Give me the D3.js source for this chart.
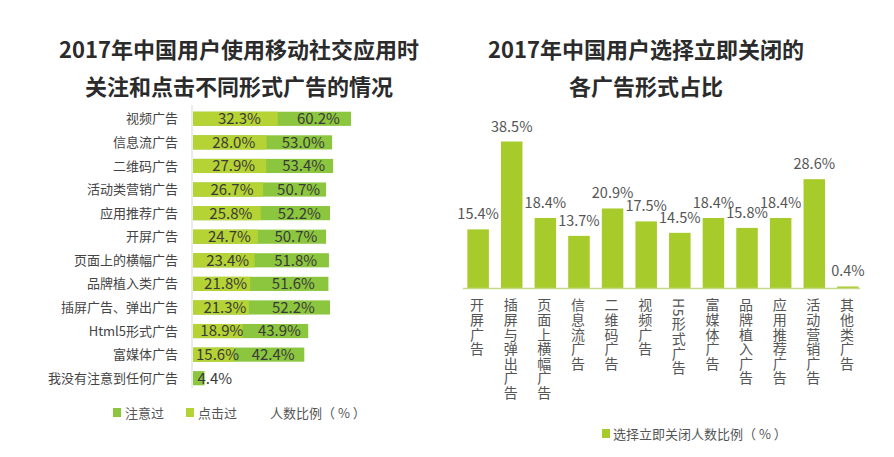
<!DOCTYPE html>
<html>
<head>
<meta charset="utf-8">
<script src="https://cdn.jsdelivr.net/npm/d3@7"></script>
<style>
  body { margin: 0; background: #fff; }
  svg { font-family: "Noto Sans CJK SC", "Noto Sans", sans-serif; }
</style>
</head>
<body>
<div id="chart_area"></div>
<script>
// Left chart: noticed / clicked by ad type
var leftCats = ["视频广告", "信息流广告", "二维码广告", "活动类营销广告", "应用推荐广告", "开屏广告",
  "页面上的横幅广告", "品牌植入类广告", "插屏广告、弹出广告", "Html5形式广告", "富媒体广告", "我没有注意到任何广告"];
var noticed = [60.2, 53.0, 53.4, 50.7, 52.2, 50.7, 51.8, 51.6, 52.2, 43.9, 42.4, 4.4];
var clicked = [32.3, 28.0, 27.9, 26.7, 25.8, 24.7, 23.4, 21.8, 21.3, 18.9, 15.6, null];

// Right chart: share choosing to close immediately
var rightCats = ["开屏广告", "插屏与弹出广告", "页面上横幅广告", "信息流广告", "二维码广告", "视频广告",
  "H5形式广告", "富媒体广告", "品牌植入广告", "应用推荐广告", "活动营销广告", "其他类广告"];
var closeRate = [15.4, 38.5, 18.4, 13.7, 20.9, 17.5, 14.5, 18.4, 15.8, 18.4, 28.6, 0.4];

var darkGreen = "#8cc63f";
var lightGreen = "#b5d334";
var barGreen = "#a8cb2c";
var textGray = "#555";

var frame = d3.select("#chart_area").append("svg")
    .attr("width", 894)
    .attr("height", 457);

// ---------- titles
frame.append("text").attr("x", 239).attr("y", 58).attr("text-anchor", "middle")
    .attr("font-size", 22).attr("font-weight", "bold").attr("fill", "#2b2b2b")
    .text("2017年中国用户使用移动社交应用时");
frame.append("text").attr("x", 239).attr("y", 95).attr("text-anchor", "middle")
    .attr("font-size", 22).attr("font-weight", "bold").attr("fill", "#2b2b2b")
    .text("关注和点击不同形式广告的情况");
frame.append("text").attr("x", 646).attr("y", 58).attr("text-anchor", "middle")
    .attr("font-size", 22).attr("font-weight", "bold").attr("fill", "#2b2b2b")
    .text("2017年中国用户选择立即关闭的");
frame.append("text").attr("x", 646).attr("y", 95).attr("text-anchor", "middle")
    .attr("font-size", 22).attr("font-weight", "bold").attr("fill", "#2b2b2b")
    .text("各广告形式占比");

// ---------- left chart
var xLeft = d3.scaleLinear().domain([0, 60.2]).range([193, 351]);
var yLeft = d3.scaleBand().domain(leftCats).range([107, 390]).paddingInner(0.4).paddingOuter(0.2);

var left = frame.append("g").attr("class", "left");

left.append("line")
    .attr("x1", 192).attr("x2", 192)
    .attr("y1", 105).attr("y2", 388)
    .attr("stroke", "#d8d8d8").attr("stroke-width", 1);

var rows = left.selectAll(".row")
    .data(leftCats.map(function(c, i) { return {cat: c, n: noticed[i], c: clicked[i]}; }))
    .enter().append("g").attr("class", "row");

rows.append("rect")
    .attr("x", xLeft(0))
    .attr("y", function(d) { return yLeft(d.cat); })
    .attr("width", function(d) { return xLeft(d.n) - xLeft(0); })
    .attr("height", yLeft.bandwidth())
    .attr("fill", darkGreen);

rows.filter(function(d) { return d.c != null; }).append("rect")
    .attr("x", xLeft(0))
    .attr("y", function(d) { return yLeft(d.cat); })
    .attr("width", function(d) { return xLeft(d.c) - xLeft(0); })
    .attr("height", yLeft.bandwidth())
    .attr("fill", lightGreen);

rows.append("text")
    .attr("x", 178)
    .attr("y", function(d) { return yLeft(d.cat) + yLeft.bandwidth() / 2; })
    .attr("dy", "0.35em")
    .attr("text-anchor", "end")
    .attr("font-size", 13)
    .attr("fill", "#444")
    .text(function(d) { return d.cat; });

// clicked labels
rows.filter(function(d) { return d.c != null; }).append("text")
    .attr("x", function(d) { return (xLeft(0) + xLeft(d.c)) / 2 + 4; })
    .attr("y", function(d) { return yLeft(d.cat) + yLeft.bandwidth() / 2; })
    .attr("dy", "0.36em")
    .attr("text-anchor", "middle")
    .attr("font-size", 15)
    .attr("fill", "#3a3a3a")
    .text(function(d) { return d.c.toFixed(1) + "%"; });

// noticed labels
rows.append("text")
    .attr("x", function(d) {
      if (d.c == null) return xLeft(d.n) - 7;
      return (xLeft(d.c) + xLeft(d.n)) / 2 + 4;
    })
    .attr("y", function(d) { return yLeft(d.cat) + yLeft.bandwidth() / 2; })
    .attr("dy", "0.36em")
    .attr("text-anchor", function(d) { return d.c == null ? "start" : "middle"; })
    .attr("font-size", 15)
    .attr("fill", "#3a3a3a")
    .text(function(d) { return d.n.toFixed(1) + "%"; });

// left legend
var legL = frame.append("g").attr("class", "legend-left").attr("font-size", 13).attr("fill", textGray);
legL.append("rect").attr("x", 113).attr("y", 408).attr("width", 8).attr("height", 9).attr("fill", darkGreen);
legL.append("text").attr("x", 125).attr("y", 413).attr("dy", "0.35em").text("注意过");
legL.append("rect").attr("x", 186).attr("y", 408).attr("width", 8).attr("height", 9).attr("fill", lightGreen);
legL.append("text").attr("x", 198).attr("y", 413).attr("dy", "0.35em").text("点击过");
legL.append("text").attr("x", 270).attr("y", 413).attr("dy", "0.35em").text("人数比例（ % ）");

// ---------- right chart
var xRight = d3.scaleBand().domain(rightCats).range([464, 862]).paddingInner(0.36).paddingOuter(0.1);
var yRight = d3.scaleLinear().domain([0, 38.5]).range([288, 141.5]);

var right = frame.append("g").attr("class", "right");

right.selectAll(".bar")
    .data(rightCats.map(function(c, i) { return {cat: c, v: closeRate[i]}; }))
    .enter().append("rect").attr("class", "bar")
    .attr("x", function(d) { return xRight(d.cat); })
    .attr("y", function(d) { return yRight(d.v); })
    .attr("width", xRight.bandwidth())
    .attr("height", function(d) { return yRight(0) - yRight(d.v); })
    .attr("fill", barGreen);

right.append("line")
    .attr("x1", 463).attr("x2", 860)
    .attr("y1", 288.5).attr("y2", 288.5)
    .attr("stroke", "#c8d98a").attr("stroke-width", 1.5);

right.selectAll(".val")
    .data(rightCats.map(function(c, i) { return {cat: c, v: closeRate[i]}; }))
    .enter().append("text").attr("class", "val")
    .attr("x", function(d) { return xRight(d.cat) + xRight.bandwidth() / 2; })
    .attr("y", function(d) { return yRight(d.v) - 10; })
    .attr("text-anchor", "middle")
    .attr("font-size", 14.5)
    .attr("fill", textGray)
    .text(function(d) { return d.v.toFixed(1) + "%"; });

right.selectAll(".cat")
    .data(rightCats)
    .enter().append("text").attr("class", "cat")
    .attr("x", function(d) { return xRight(d) + xRight.bandwidth() / 2 - 1; })
    .attr("y", 298)
    .attr("font-size", 14)
    .attr("letter-spacing", 0.6)
    .attr("fill", textGray)
    .style("writing-mode", "vertical-rl")
    .attr("text-anchor", "start")
    .text(function(d) { return d; });

// right legend
var legR = frame.append("g").attr("class", "legend-right").attr("font-size", 13).attr("fill", textGray);
legR.append("rect").attr("x", 602).attr("y", 429).attr("width", 8).attr("height", 9).attr("fill", barGreen);
legR.append("text").attr("x", 613).attr("y", 434).attr("dy", "0.35em").text("选择立即关闭人数比例（ % ）");
</script>
</body>
</html>
